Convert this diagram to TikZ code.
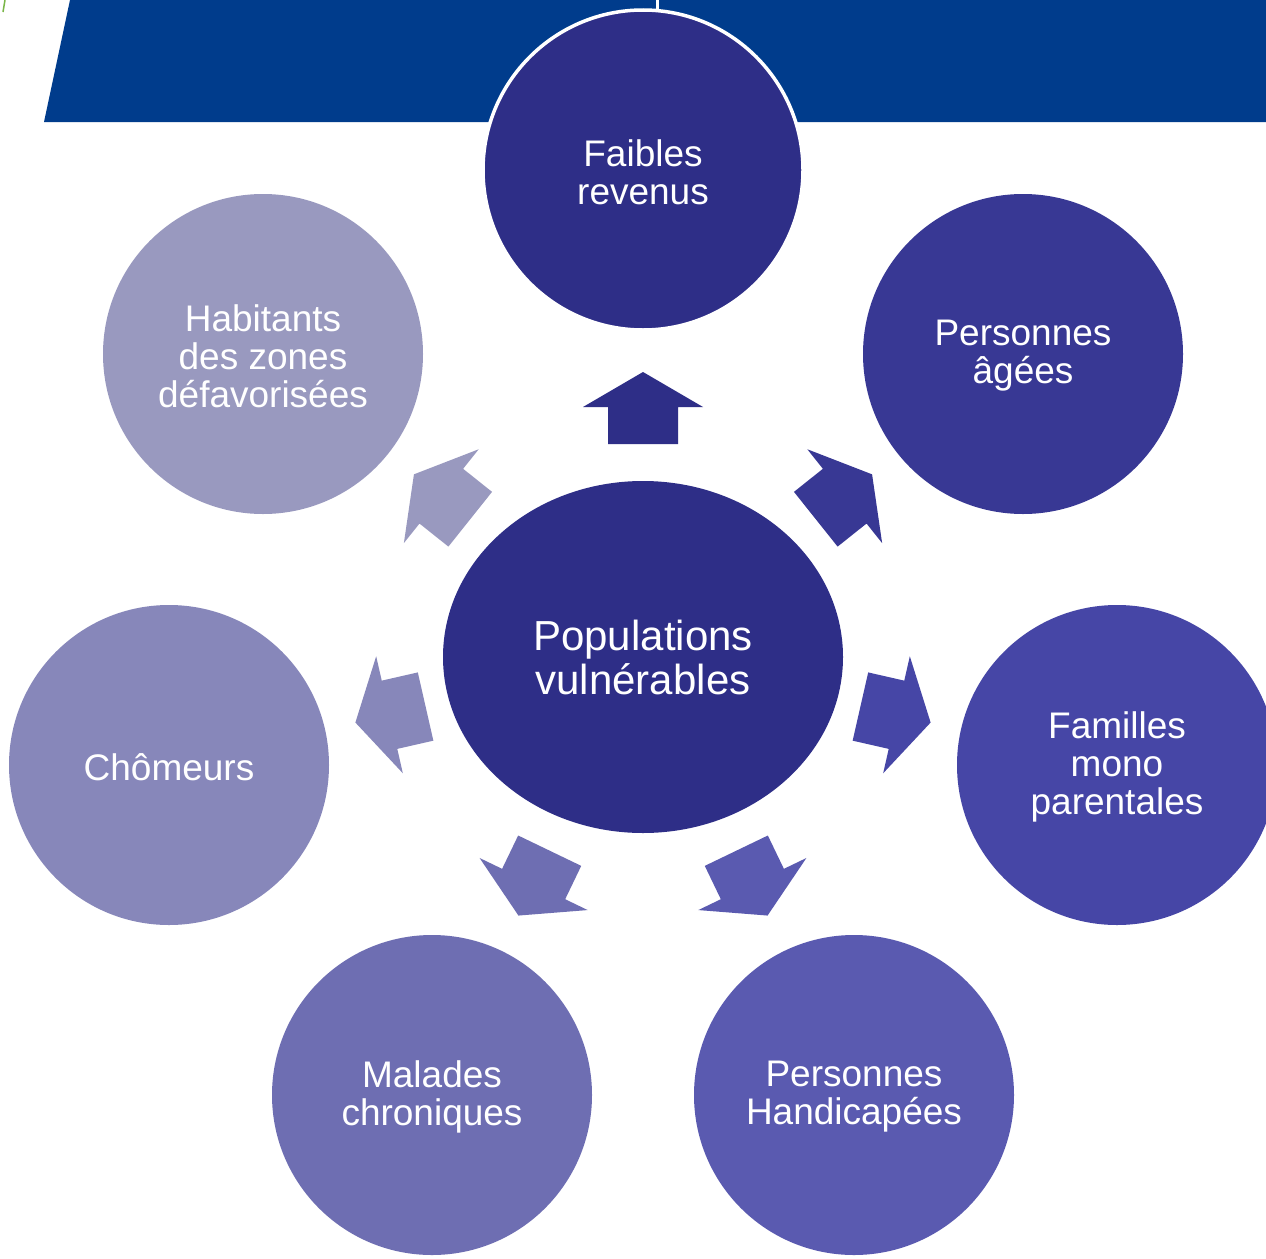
\documentclass[tikz,border=0pt]{standalone}
\usepackage{fontspec}
\setmainfont{Liberation Sans}
\usetikzlibrary{calc,shapes.geometric}
\definecolor{banner}{HTML}{003C8C}
\definecolor{cA}{HTML}{2E2E87}
\definecolor{cB}{HTML}{383894}
\definecolor{cC}{HTML}{4646A6}
\definecolor{cD}{HTML}{5A5AB0}
\definecolor{cE}{HTML}{6E6EB2}
\definecolor{cF}{HTML}{8787BA}
\definecolor{cG}{HTML}{9999BF}
\definecolor{leafgreen}{HTML}{7AB648}
\tikzset{
  bubble/.style={circle,minimum size=320pt,inner sep=0pt,fill=#1},
  btext/.style={text=white,align=center,font=\fontsize{37}{38}\selectfont,yshift=-2pt},
  hub/.style={ellipse,minimum width=400pt,minimum height=352pt,inner sep=0pt,text=white,
    align=center,fill=cA,font=\fontsize{42}{44}\selectfont}
}
\newcommand\vularrow[3]{%
  \coordinate (t0) at ($(hub.center)!#3pt!(#1.center)$);
  \coordinate (h0) at ($(hub.center)!#3pt+37pt!(#1.center)$);
  \coordinate (p0) at ($(hub.center)!#3pt+72pt!(#1.center)$);
  \fill[#2] ($(t0)!35pt!90:(#1.center)$) -- ($(h0)!35pt!90:(#1.center)$)
    -- ($(h0)!60pt!90:(#1.center)$) -- (p0) -- ($(h0)!60pt!-90:(#1.center)$)
    -- ($(h0)!35pt!-90:(#1.center)$) -- ($(t0)!35pt!-90:(#1.center)$) -- cycle;
}
\begin{document}
\begin{tikzpicture}[x=1pt,y=-1pt]
\useasboundingbox (0,0) rectangle (1266,1258);
\fill[white] (0,0) rectangle (1266,1258);
% banner
\fill[banner] (70,0) -- (1266,0) -- (1266,122) -- (44,122) -- cycle;
\draw[white,line width=3pt] (657,0) -- (657,10);
\draw[leafgreen,line width=1.5pt] (3,12) -- (5,0);
% hub
\node[hub] (hub) at (643,657) {Populations\\vulnérables};
% bubbles
\node[bubble=cA,draw=white,line width=3.5pt] (n1) at (643,170) {};
\node[bubble=cB] (n2) at (1023,354) {};
\node[bubble=cC] (n3) at (1117,765) {};
\node[bubble=cD] (n4) at (854,1095) {};
\node[bubble=cE] (n5) at (432,1095) {};
\node[bubble=cF] (n6) at (169,765) {};
\node[bubble=cG] (n7) at (263,354) {};
\node[btext] (l1) at (n1.center) {Faibles\\revenus};
\node[btext] (l2) at (n2.center) {Personnes\\âgées};
\node[btext] (l3) at (n3.center) {Familles\\mono\\parentales};
\node[btext] (l4) at (n4.center) {Personnes\\Handicapées};
\node[btext] (l5) at (n5.center) {Malades\\chroniques};
\node[btext] (l6) at (n6.center) {Chômeurs};
\node[btext] (l7) at (n7.center) {Habitants\\des zones\\défavorisées};
% arrows
\vularrow{n1}{cA}{213}
\vularrow{n2}{cB}{221}
\vularrow{n3}{cC}{223}
\vularrow{n4}{cD}{215}
\vularrow{n5}{cE}{215}
\vularrow{n6}{cF}{223}
\vularrow{n7}{cG}{221}
\end{tikzpicture}
\end{document}
